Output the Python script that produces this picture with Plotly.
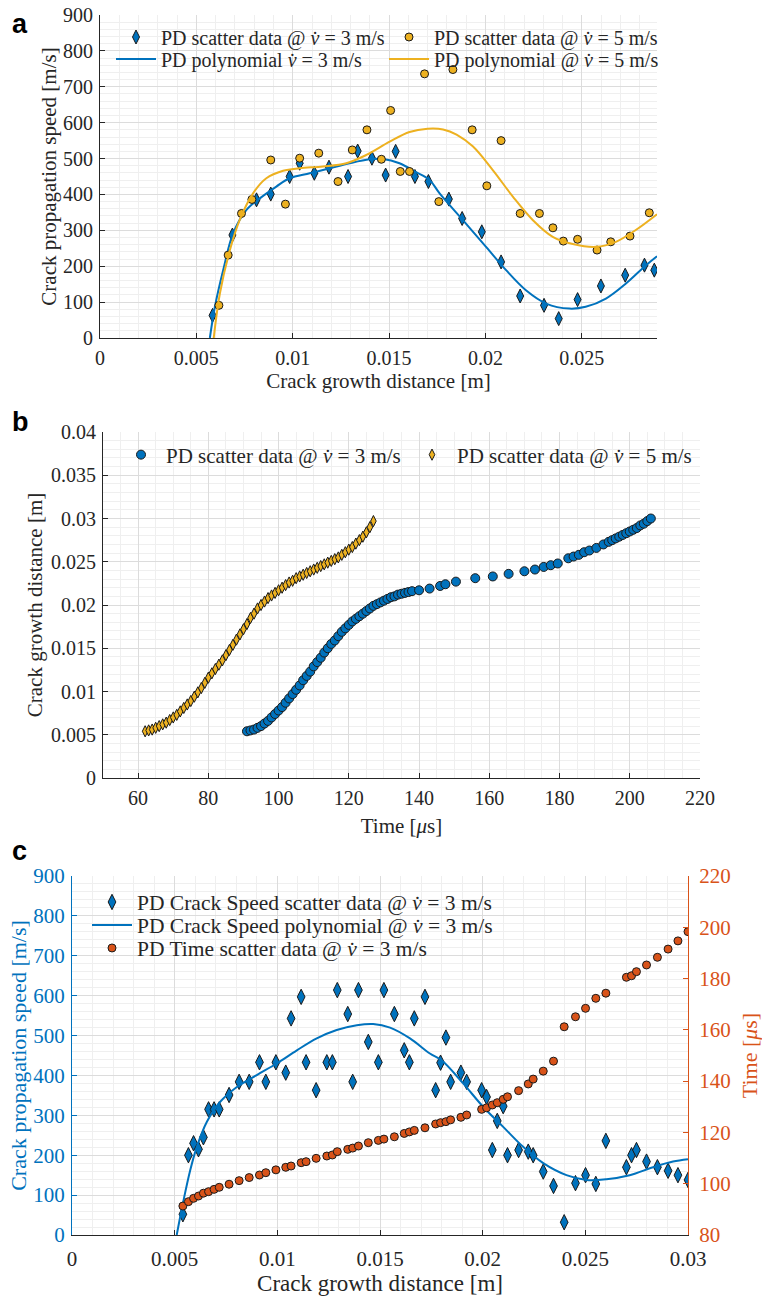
import plotly.graph_objects as go

# ---------------- Panel a data ----------------
a_x3 = [0.00584, 0.00687, 0.00812, 0.00886, 0.00984, 0.01036, 0.01112, 0.01188, 0.01287, 0.01337,
        0.01411, 0.01482, 0.01534, 0.01634, 0.01704, 0.0181, 0.01879, 0.01981, 0.02081, 0.0218,
        0.02304, 0.0238, 0.02478, 0.02599, 0.02725, 0.02825, 0.02876]
a_v3 = [63, 287, 385, 401, 450, 487, 459, 476, 450, 521,
        501, 454, 520, 450, 436, 387, 333, 296, 212, 117,
        91, 54, 107, 145, 175, 203, 189]

a_x5 = [0.00617, 0.00665, 0.00734, 0.00788, 0.00886, 0.00962, 0.01036, 0.01135, 0.01235, 0.01309,
        0.01385, 0.0146, 0.01508, 0.01558, 0.01606, 0.01684, 0.01758, 0.01831, 0.01931, 0.02007,
        0.02081, 0.0218, 0.0228, 0.0235, 0.02404, 0.02478, 0.02579, 0.0265, 0.0275, 0.0285]
a_v5 = [91, 231, 347, 386, 496, 373, 501, 515, 436, 524,
        580, 498, 634, 464, 464, 736, 380, 748, 580, 424,
        550, 347, 347, 307, 270, 275, 245, 268, 284, 349]

a_px3 = [0.0057, 0.00596, 0.00639, 0.00691, 0.0076, 0.00829, 0.00915, 0.00984, 0.01088, 0.01192,
         0.01295, 0.01399, 0.01468, 0.01554, 0.0164, 0.0171, 0.01762, 0.01882, 0.02003, 0.02107,
         0.0221, 0.02315, 0.02435, 0.0252, 0.02625, 0.02729, 0.02833, 0.0289]
a_pv3 = [0, 87, 189, 292, 357, 389, 422, 445, 459, 473,
         487, 498, 499, 487, 462, 440, 403, 329, 254, 189,
         133, 96, 82, 87, 110, 152, 203, 228]

a_px5 = [0.0059, 0.00622, 0.00674, 0.00725, 0.00794, 0.00863, 0.0095, 0.01036, 0.01157, 0.01278,
         0.01382, 0.01503, 0.01606, 0.01700, 0.01780, 0.01850, 0.01934, 0.02038, 0.02142, 0.02245,
         0.02349, 0.02453, 0.02573, 0.02677, 0.0278, 0.0289]
a_pv5 = [0, 124, 245, 329, 403, 445, 466, 473, 478, 487,
         510, 547, 574, 583, 581, 567, 534, 468, 394, 329,
         282, 262, 254, 268, 301, 345]

# ---------------- Panel b data ----------------
b_t5 = list(range(62, 128))
b_d5 = [0.0054, 0.0055, 0.0056, 0.0058, 0.0060, 0.0062, 0.0064, 0.0067, 0.0070, 0.0073,
        0.0077, 0.0081, 0.0085, 0.0089, 0.0094, 0.0099, 0.0104, 0.0110, 0.0116, 0.0121,
        0.0126, 0.0131, 0.0136, 0.0142, 0.0148, 0.0154, 0.0160, 0.0166, 0.0172, 0.0178,
        0.0185, 0.0190, 0.0196, 0.0200, 0.0204, 0.0208, 0.0211, 0.0214, 0.0217, 0.0220,
        0.0223, 0.0226, 0.0228, 0.0231, 0.0233, 0.0235, 0.0237, 0.0239, 0.0241, 0.0243,
        0.0245, 0.0247, 0.0249, 0.0251, 0.0253, 0.0255, 0.0258, 0.0261, 0.0264, 0.0267,
        0.0271, 0.0275, 0.0279, 0.0284, 0.0290, 0.0297]

b_t3 = [91, 92, 93, 94, 95, 96, 97, 98, 99, 100, 101, 102, 103, 104, 105, 106, 107, 108, 109, 110,
        111, 112, 113, 114, 115, 116, 117, 118, 119, 120, 121, 122, 123, 124, 125, 126, 127, 128, 129, 130,
        131, 132, 133, 134, 135, 136, 137, 138, 140, 143, 146, 147.5, 150.5, 156, 161, 165.5, 170, 173,
        175.5, 177.5, 179.5, 182.5, 184, 185.5, 187, 188.5, 190.5, 192.5, 194, 195, 196, 197, 198, 199,
        200, 201, 202, 203, 204, 205, 206]
b_d3 = [0.0054, 0.0055, 0.0056, 0.0058, 0.0060, 0.0063, 0.0066, 0.0070, 0.0074, 0.0078,
        0.0082, 0.0087, 0.0092, 0.0097, 0.0102, 0.0107, 0.0113, 0.0118, 0.0123, 0.0129,
        0.0134, 0.0139, 0.0145, 0.0150, 0.0155, 0.0159, 0.0164, 0.0169, 0.0173, 0.0177,
        0.0181, 0.0184, 0.0187, 0.0190, 0.0193, 0.0196, 0.0199, 0.0201, 0.0203, 0.0205,
        0.0207, 0.0209, 0.0210, 0.0212, 0.0213, 0.0214, 0.0215, 0.0216, 0.0217, 0.0219,
        0.0222, 0.0224, 0.0227, 0.0231, 0.0233, 0.0236, 0.0239, 0.0241, 0.0244, 0.0246,
        0.0248, 0.0254, 0.0256, 0.0258, 0.0261, 0.0263, 0.0266, 0.0270, 0.0273, 0.0275,
        0.0277, 0.0279, 0.0281, 0.0283, 0.0285, 0.0287, 0.0289, 0.0292, 0.0294, 0.0297, 0.0300]

# ---------------- Panel c data ----------------
c_x = [0.0054, 0.00567, 0.00592, 0.00616, 0.0064, 0.00665, 0.00692, 0.00717, 0.00765, 0.00814,
       0.00863, 0.00913, 0.00944, 0.00993, 0.01041, 0.01067, 0.01116, 0.0114, 0.01189, 0.01241,
       0.01268, 0.01292, 0.01343, 0.01367, 0.01395, 0.01443, 0.01492, 0.01519, 0.0157, 0.01618,
       0.01643, 0.01667, 0.01719, 0.01771, 0.01795, 0.01821, 0.01844, 0.01894, 0.01922, 0.01995,
       0.02019, 0.02047, 0.02071, 0.021, 0.02121, 0.02175, 0.02222, 0.02246, 0.02295, 0.02345,
       0.02397, 0.02452, 0.02501, 0.02551, 0.026, 0.027, 0.02725, 0.02749, 0.02798, 0.02851,
       0.02903, 0.02951, 0.030]
c_speed = [52, 200, 230, 215, 245, 315, 315, 315, 351, 384,
           384, 433, 384, 433, 407, 543, 597, 433, 363, 433,
           433, 614, 554, 384, 614, 484, 433, 614, 554, 463,
           433, 543, 597, 363, 432, 495, 384, 407, 384, 363,
           346, 213, 286, 323, 200, 213, 209, 200, 159, 123,
           32, 130, 150, 128, 236, 170, 200, 213, 184, 170,
           161, 150, 138]
c_time = [91.3, 93.0, 94.3, 95.2, 96.3, 96.9, 97.8, 98.6, 99.8, 101.2,
          102.4, 103.4, 104.3, 105.4, 106.4, 106.9, 108.2, 108.6, 109.9, 110.8,
          111.2, 112.5, 113.4, 113.9, 114.7, 116.0, 116.9, 117.4, 118.3, 119.6,
          120.2, 120.8, 121.8, 123.3, 123.8, 124.2, 124.9, 125.9, 126.8, 129.0,
          129.6, 130.7, 131.6, 132.9, 133.9, 136.3, 138.9, 140.8, 143.9, 147.8,
          161.2, 165.1, 168.4, 172.3, 174.3, 180.5, 181.1, 182.7, 185.3, 188.3,
          191.5, 194.7, 198.3]

c_px = [0.0051, 0.0054, 0.00576, 0.00608, 0.00657, 0.00722, 0.00803, 0.009, 0.00997, 0.01095,
        0.01192, 0.01289, 0.01387, 0.01467, 0.01549, 0.01646, 0.01743, 0.018, 0.01905, 0.02003,
        0.021, 0.02197, 0.02295, 0.02408, 0.02506, 0.02603, 0.02716, 0.0283, 0.02927, 0.030]
c_pv = [0, 79, 163, 221, 284, 334, 371, 401, 430, 463,
        493, 514, 526, 529, 520, 493, 455, 438, 380, 321,
        271, 221, 180, 150, 138, 140, 150, 170, 184, 190]

# ---------------- Styling ----------------
BLUE = "#0072BD"
YELLOW = "#EDB120"
ORANGE = "#D95319"
EDGE = "#1a1a1a"
AX = "#262626"
SERIF = "Liberation Serif, Times New Roman, serif"
W, H = 762, 1298


def dom_x(p0, p1):
    return [p0 / W, p1 / W]


def dom_y(top, bot):
    return [1 - bot / H, 1 - top / H]


def axis(domain, rng, dtick, minor, title, anchor, color=AX, standoff=8, side=None,
         overlaying=None, showgrid=True, tsize=20, titsize=21, tls=2):
    d = dict(domain=domain, range=rng, dtick=dtick, tick0=0, showline=True, linecolor=color,
             linewidth=1, ticks="inside", ticklen=5, tickcolor=color, zeroline=False,
             showgrid=showgrid, gridcolor="#dcdcdc", gridwidth=1,
             minor=dict(showgrid=showgrid, gridcolor="#efefef", dtick=minor, tick0=0),
             tickfont=dict(family=SERIF, size=tsize, color=color),
             ticklabelstandoff=tls,
             title=dict(text=title, font=dict(family=SERIF, size=titsize, color=color), standoff=standoff),
             anchor=anchor, automargin=False, mirror=False)
    if side:
        d["side"] = side
    if overlaying:
        d["overlaying"] = overlaying
    return d


def leg(xpx, ypx, size):
    # xpx: legend symbol centre, ypx: row centre (pixels)
    return dict(bgcolor="rgba(0,0,0,0)", borderwidth=0, xanchor="left", yanchor="middle",
                x=(xpx - 26) / W, y=1 - ypx / H, itemwidth=40,
                font=dict(family=SERIF, size=size, color=AX))


fig = go.Figure()

V = "<i>v̇</i>"

# Panel a
fig.add_trace(go.Scatter(x=a_x3, y=a_v3, mode="markers", xaxis="x", yaxis="y", legend="legend",
                         name=f"PD scatter data @ {V} = 3 m/s",
                         marker=dict(symbol="diamond-tall", size=10, color=BLUE, line=dict(color=EDGE, width=1))))
fig.add_trace(go.Scatter(x=a_px3, y=a_pv3, mode="lines", line_shape="spline", xaxis="x", yaxis="y",
                         legend="legend2", name=f"PD polynomial {V} = 3 m/s",
                         line=dict(color=BLUE, width=2)))
fig.add_trace(go.Scatter(x=a_x5, y=a_v5, mode="markers", xaxis="x", yaxis="y", legend="legend3",
                         name=f"PD scatter data @ {V} = 5 m/s",
                         marker=dict(symbol="circle", size=8, color=YELLOW, line=dict(color=EDGE, width=1))))
fig.add_trace(go.Scatter(x=a_px5, y=a_pv5, mode="lines", line_shape="spline", xaxis="x", yaxis="y",
                         legend="legend4", name=f"PD polynomial @ {V} = 5 m/s",
                         line=dict(color=YELLOW, width=2)))

# Panel b
fig.add_trace(go.Scatter(x=b_t3, y=b_d3, mode="markers", xaxis="x2", yaxis="y2", legend="legend5",
                         name=f"PD scatter data @ {V} = 3 m/s",
                         marker=dict(symbol="circle", size=9, color=BLUE, line=dict(color=EDGE, width=1))))
fig.add_trace(go.Scatter(x=b_t5, y=b_d5, mode="markers", xaxis="x2", yaxis="y2", legend="legend6",
                         name=f"PD scatter data @ {V} = 5 m/s",
                         marker=dict(symbol="diamond-tall", size=8, color=YELLOW, line=dict(color=EDGE, width=1))))

# Panel c
fig.add_trace(go.Scatter(x=c_x, y=c_speed, mode="markers", xaxis="x3", yaxis="y3", legend="legend7",
                         name=f"PD Crack Speed scatter data @ {V} = 3 m/s",
                         marker=dict(symbol="diamond-tall", size=11, color=BLUE, line=dict(color=EDGE, width=1))))
fig.add_trace(go.Scatter(x=c_px, y=c_pv, mode="lines", line_shape="spline", xaxis="x3", yaxis="y3",
                         legend="legend8", name=f"PD Crack Speed polynomial @ {V} = 3 m/s",
                         line=dict(color=BLUE, width=2)))
fig.add_trace(go.Scatter(x=c_x, y=c_time, mode="markers", xaxis="x3", yaxis="y4", legend="legend9",
                         name=f"PD Time scatter data @ {V} = 3 m/s",
                         marker=dict(symbol="circle", size=8, color=ORANGE, line=dict(color=EDGE, width=1))))

fig.update_layout(
    width=W, height=H, autosize=False, template="none",
    font=dict(family=SERIF, color=AX),
    margin=dict(l=0, r=0, t=0, b=0),
    paper_bgcolor="white", plot_bgcolor="white",
    xaxis=axis(dom_x(100, 657), [0, 0.0289], 0.005, 0.001, "Crack growth distance [m]", "y", standoff=4),
    yaxis=axis(dom_y(15, 338), [0, 900], 100, 20, "Crack propagation speed [m/s]", "x", standoff=0),
    xaxis2=axis(dom_x(103, 700), [50, 220], 20, 5, "Time [<i>μ</i>s]", "y2", standoff=10),
    yaxis2=axis(dom_y(432, 778), [0, 0.04], 0.005, 0.001, "Crack growth distance [m]", "x2", standoff=2),
    xaxis3=axis(dom_x(72, 688), [0, 0.03], 0.005, 0.001, "Crack growth distance [m]", "y3", standoff=0,
                tsize=21, titsize=23, tls=5),
    yaxis3=axis(dom_y(876, 1235), [0, 900], 100, 20, "Crack propagation speed [m/s]", "x3", color=BLUE,
                standoff=0, tsize=21, titsize=22),
    yaxis4=axis(dom_y(876, 1235), [80, 220], 20, 5, "Time [<i>μ</i>s]", "x3", color=ORANGE, standoff=12,
                side="right", overlaying="y3", showgrid=False, tsize=21, titsize=22, tls=6),
    legend=leg(137, 37, 20),
    legend2=leg(137, 59, 20),
    legend3=leg(410, 37, 20),
    legend4=leg(410, 59, 20),
    legend5=leg(142, 455, 21),
    legend6=leg(433, 455, 21),
    legend7=leg(113, 902, 21.5),
    legend8=leg(113, 925, 21.5),
    legend9=leg(113, 948, 21.5),
    showlegend=True,
)

for lbl, yy in [("a", 24), ("b", 422), ("c", 851)]:
    fig.add_annotation(text=f"<b>{lbl}</b>", x=10 / W, y=1 - yy / H, xref="paper", yref="paper",
                       xanchor="left", yanchor="middle", showarrow=False,
                       font=dict(family="Liberation Sans", size=27, color="black"))

fig.write_html("out.html", config={"displayModeBar": False},
               post_script="document.body.style.margin='0';document.body.style.overflow='hidden';")
